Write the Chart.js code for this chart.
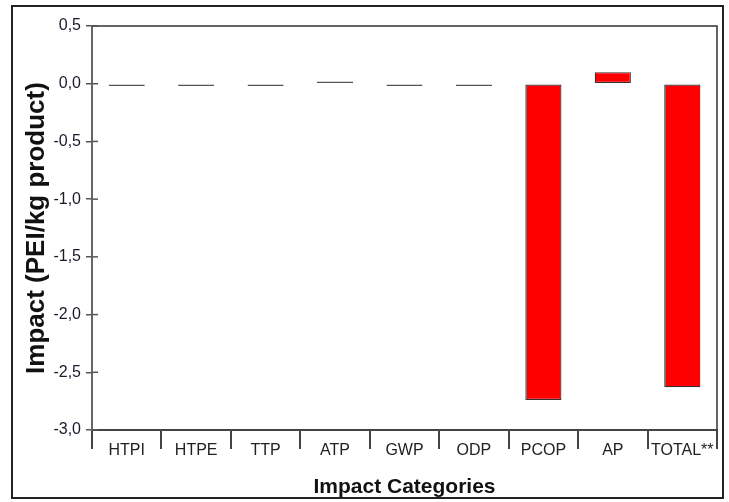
<!DOCTYPE html>
<html>
<head>
<meta charset="utf-8">
<script src="https://cdn.jsdelivr.net/npm/chart.js@4"></script>
<style>
	html, body { margin: 0; padding: 0; background: #fff; }
	#wrap { width: 729px; height: 502px; position: relative; }
</style>
</head>
<body>
<div id="wrap"><canvas id="chart"></canvas></div>
<script>
const categories = ['HTPI', 'HTPE', 'TTP', 'ATP', 'GWP', 'ODP', 'PCOP', 'AP', 'TOTAL**'];
const impactValues = [-0.02, -0.02, -0.02, 0.02, -0.02, -0.02, -2.74, 0.1, -2.63];
const yMin = -3.0;
const yMax = 0.5;
const yStep = 0.5;

const tickFont = { family: "'Liberation Sans', Arial, sans-serif", size: 16 };

// frame round the figure, top/right border of the plot, ticks crossing the y axis
const framePlugin = {
	id: 'frame',
	afterDraw(chart) {
		const ctx = chart.ctx;
		const { left, right, top, bottom } = chart.chartArea;
		ctx.save();
		ctx.strokeStyle = '#222';
		ctx.lineWidth = 2;
		ctx.strokeRect(12, 6, 711, 492);

		ctx.strokeStyle = '#333';
		ctx.lineWidth = 1.5;
		ctx.beginPath();
		ctx.moveTo(left, top);
		ctx.lineTo(right, top);
		ctx.lineTo(right, bottom);
		ctx.stroke();

		const yScale = chart.scales.y;
		ctx.strokeStyle = '#555';
		ctx.lineWidth = 1.5;
		yScale.ticks.forEach((t) => {
			const y = yScale.getPixelForValue(t.value);
			ctx.beginPath();
			ctx.moveTo(left, y);
			ctx.lineTo(left + 6, y);
			ctx.stroke();
		});
		ctx.restore();
	},
};

const config = {
	type: 'bar',
	data: {
		labels: categories,
		datasets: [
			{
				data: impactValues,
				backgroundColor: '#ff0000',
				borderColor: (c) => (Math.abs(c.raw) < 0.05 ? '#555' : '#333'),
				borderWidth: 1.2,
				borderSkipped: false,
				categoryPercentage: 1,
				barPercentage: 0.52,
			},
		],
	},
	options: {
		responsive: false,
		animation: false,
		devicePixelRatio: 1,
		layout: { padding: { left: 0, right: 12, top: 26, bottom: 0 } },
		plugins: {
			legend: { display: false },
			tooltip: { enabled: false },
		},
		scales: {
			x: {
				offset: true,
				grid: {
					offset: true,
					drawOnChartArea: false,
					tickLength: 19,
					color: '#444',
					lineWidth: 2,
				},
				border: { color: '#444', width: 2 },
				ticks: {
					font: tickFont,
					color: '#222',
					padding: -8,
					maxRotation: 0,
					autoSkip: false,
				},
				title: {
					display: true,
					text: 'Impact Categories',
					font: { family: "'Liberation Sans', Arial, sans-serif", size: 21, weight: 'bold' },
					color: '#111',
					padding: { top: 0, bottom: 2 },
				},
				afterFit: (scale) => {
					scale.height = 72;
				},
			},
			y: {
				min: yMin,
				max: yMax,
				grid: {
					drawOnChartArea: false,
					tickLength: 6,
					color: '#555',
					lineWidth: 1.5,
				},
				border: { color: '#666', width: 2 },
				ticks: {
					stepSize: yStep,
					font: tickFont,
					color: '#1a1a2a',
					padding: 5,
					callback: (value) => value.toFixed(1).replace('.', ','),
				},
				title: {
					display: true,
					text: 'Impact (PEI/kg product)',
					font: { family: "'Liberation Sans', Arial, sans-serif", size: 26, weight: 'bold' },
					color: '#111',
					padding: { top: 21, bottom: 0 },
				},
				afterFit: (scale) => {
					scale.width = 92;
				},
			},
		},
	},
	plugins: [framePlugin],
};

const canvas = document.getElementById('chart');
canvas.width = 729;
canvas.height = 502;
new Chart(canvas, config);
</script>
</body>
</html>
